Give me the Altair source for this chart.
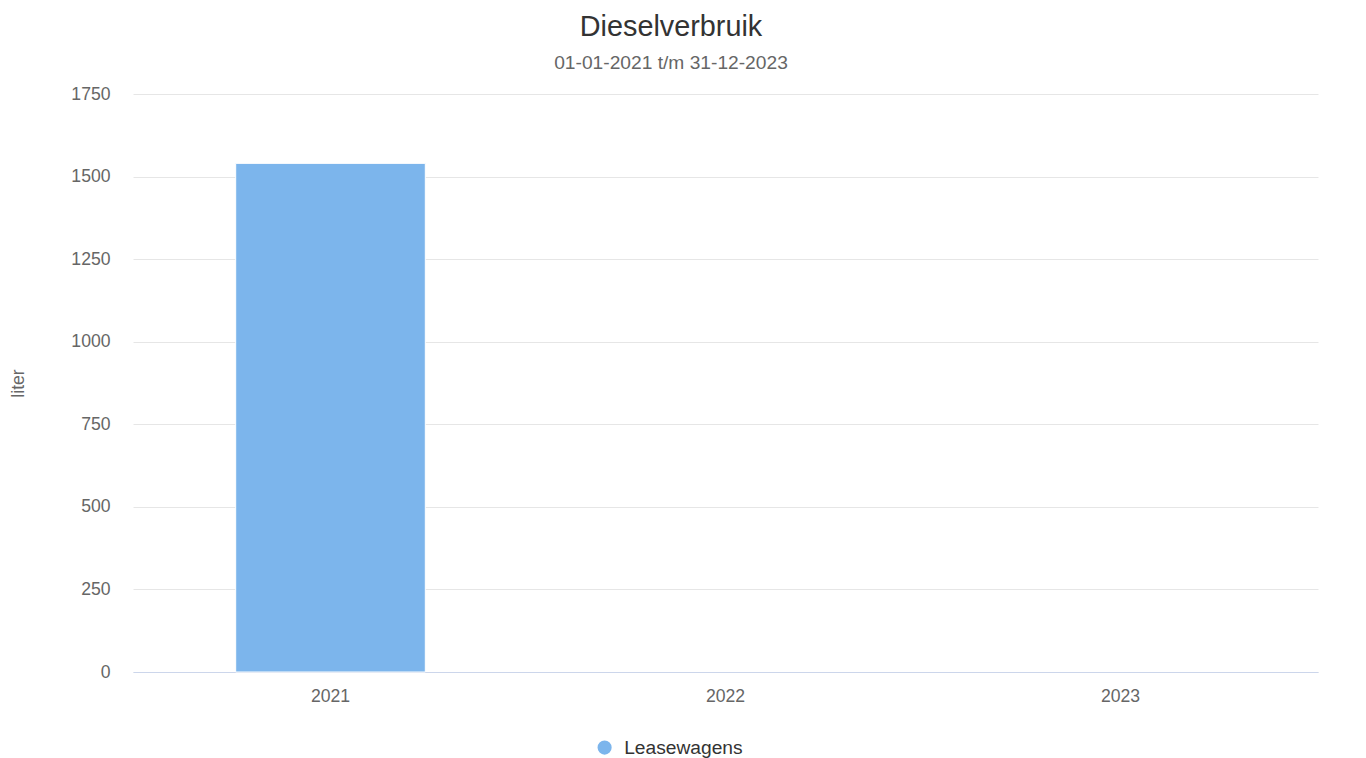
import altair as alt
import pandas as pd

years = ["2021", "2022", "2023"]
liters = [1540, 0, 0]
series = ["Leasewagens", "Leasewagens", "Leasewagens"]
y_ticks = [0, 250, 500, 750, 1000, 1250, 1500, 1750]

df = pd.DataFrame({"jaar": years, "liter": liters, "serie": series})

FONT = "Liberation Sans"

chart = (
    alt.Chart(df)
    .transform_filter("datum.liter > 0")
    .mark_bar(stroke="#ffffff", strokeWidth=1)
    .encode(
        x=alt.X(
            "jaar:N",
            scale=alt.Scale(domain=years, paddingInner=0.52, paddingOuter=0.26),
            axis=alt.Axis(
                title=None,
                labelAngle=0,
                ticks=False,
                domainColor="#ccd6eb",
                domainWidth=1,
                labelColor="#666666",
                labelFontSize=17.6,
                labelFont=FONT,
                labelPadding=15,
                grid=False,
            ),
        ),
        y=alt.Y(
            "liter:Q",
            scale=alt.Scale(domain=[0, 1750], nice=False),
            axis=alt.Axis(
                title="liter",
                values=y_ticks,
                format="d",
                ticks=False,
                domain=False,
                gridColor="#e6e6e6",
                gridWidth=1,
                labelColor="#666666",
                labelFontSize=17.6,
                labelFont=FONT,
                labelPadding=23,
                titleColor="#666666",
                titleFontSize=17.6,
                titleFont=FONT,
                titleFontWeight="normal",
                titleX=-115,
                titleY=289,
                titleBaseline="middle",
                titleAlign="center",
            ),
        ),
        color=alt.Color(
            "serie:N",
            scale=alt.Scale(range=["#7cb5ec"]),
            legend=alt.Legend(
                title=None,
                orient="none",
                legendX=462,
                legendY=644,
                symbolType="circle",
                symbolSize=200,
                symbolStrokeWidth=0,
                labelFontSize=19.2,
                labelFont=FONT,
                labelColor="#333333",
                labelOffset=10,
                padding=0,
            ),
        ),
    )
    .properties(
        width=1185,
        height=578,
        background="#ffffff",
        autosize=alt.AutoSizeParams(type="none"),
        padding={"left": 133, "top": 94, "right": 48, "bottom": 86},
        title=alt.TitleParams(
            text="Dieselverbruik",
            subtitle="01-01-2021 t/m 31-12-2023",
            anchor="middle",
            frame="group",
            dx=-54.5,
            font=FONT,
            fontSize=28.8,
            fontWeight="normal",
            color="#333333",
            subtitleFont=FONT,
            subtitleFontSize=19.2,
            subtitleColor="#666666",
            subtitlePadding=12,
            offset=12,
        ),
    )
    .configure_view(strokeWidth=0, stroke=None)
)

chart.save("out.html", embed_options={"renderer": "svg", "actions": False})
